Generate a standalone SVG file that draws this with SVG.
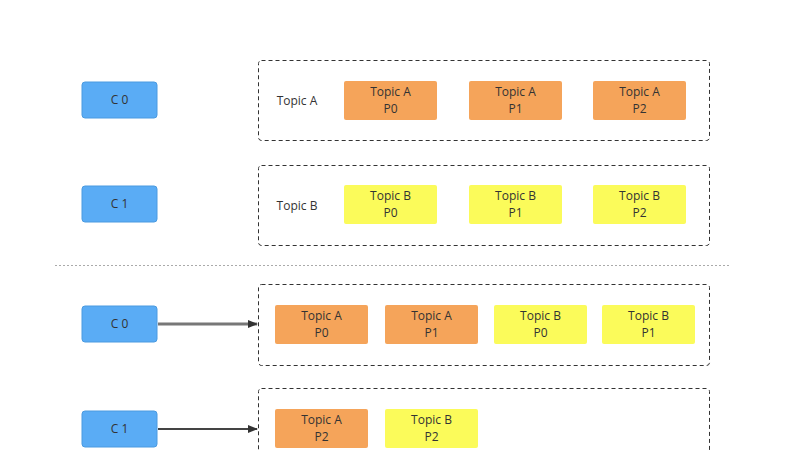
<svg xmlns="http://www.w3.org/2000/svg" width="788" height="451" viewBox="0 0 788 451">
<style>
text{font-family:"Open Sans","DejaVu Sans",sans-serif;font-size:12px;fill:#333;text-anchor:middle}
.c{fill:#5aacf5;stroke:#4a9ae0;stroke-width:1}
.a{fill:#f5a45a}
.b{fill:#fbfb5a}
.g{fill:none;stroke:#333;stroke-dasharray:4 3;stroke-width:1}
</style>
<defs><marker id="m" markerWidth="10" markerHeight="8" refX="9" refY="4" orient="auto" markerUnits="userSpaceOnUse"><path d="M0,0L10,4L0,8z" fill="#333"/></marker></defs>
<rect width="788" height="451" fill="#fff"/>
<g id="g1"><rect class="g" x="258.5" y="60.5" width="451" height="80" rx="3"/><text x="297" y="105" font-size="11">Topic A</text></g>
<g id="g2"><rect class="g" x="258.5" y="165.5" width="451" height="80" rx="3"/><text x="297" y="210" font-size="11">Topic B</text></g>
<g id="g3"><rect class="g" x="258.5" y="284.5" width="451" height="81" rx="3"/></g>
<g id="g4"><rect class="g" x="258.5" y="388.5" width="451" height="80" rx="3"/></g>
<line x1="55" y1="265.5" x2="730" y2="265.5" stroke="#aaa" stroke-dasharray="2 2"/>
<g id="c0a"><rect class="c" x="82" y="82" width="75" height="36" rx="3"/><text x="119.5" y="104">C 0</text></g>
<g id="c1a"><rect class="c" x="82" y="186" width="75" height="36" rx="3"/><text x="119.5" y="208">C 1</text></g>
<g id="c0b"><rect class="c" x="82" y="306" width="75" height="36" rx="3"/><text x="119.5" y="328">C 0</text></g>
<g id="c1b"><rect class="c" x="82" y="411" width="75" height="36" rx="3"/><text x="119.5" y="433">C 1</text></g>
<g id="t1"><rect class="a" x="344" y="81" width="93" height="39" rx="2"/><text x="390.5" y="96">Topic A</text><text x="390.5" y="113">P0</text></g>
<g id="t2"><rect class="a" x="469" y="81" width="93" height="39" rx="2"/><text x="515.5" y="96">Topic A</text><text x="515.5" y="113">P1</text></g>
<g id="t3"><rect class="a" x="593" y="81" width="93" height="39" rx="2"/><text x="639.5" y="96">Topic A</text><text x="639.5" y="113">P2</text></g>
<g id="t4"><rect class="b" x="344" y="185" width="93" height="39" rx="2"/><text x="390.5" y="200">Topic B</text><text x="390.5" y="217">P0</text></g>
<g id="t5"><rect class="b" x="469" y="185" width="93" height="39" rx="2"/><text x="515.5" y="200">Topic B</text><text x="515.5" y="217">P1</text></g>
<g id="t6"><rect class="b" x="593" y="185" width="93" height="39" rx="2"/><text x="639.5" y="200">Topic B</text><text x="639.5" y="217">P2</text></g>
<g id="t7"><rect class="a" x="275" y="305" width="93" height="39" rx="2"/><text x="321.5" y="320">Topic A</text><text x="321.5" y="337">P0</text></g>
<g id="t8"><rect class="a" x="385" y="305" width="93" height="39" rx="2"/><text x="431.5" y="320">Topic A</text><text x="431.5" y="337">P1</text></g>
<g id="t9"><rect class="b" x="494" y="305" width="93" height="39" rx="2"/><text x="540.5" y="320">Topic B</text><text x="540.5" y="337">P0</text></g>
<g id="t10"><rect class="b" x="602" y="305" width="93" height="39" rx="2"/><text x="648.5" y="320">Topic B</text><text x="648.5" y="337">P1</text></g>
<g id="t11"><rect class="a" x="275" y="409" width="93" height="39" rx="2"/><text x="321.5" y="424">Topic A</text><text x="321.5" y="441">P2</text></g>
<g id="t12"><rect class="b" x="385" y="409" width="93" height="39" rx="2"/><text x="431.5" y="424">Topic B</text><text x="431.5" y="441">P2</text></g>
<g id="connectors" stroke="#444" stroke-width="2">
<line x1="158" y1="324" x2="257" y2="324" stroke="#777" stroke-width="3" marker-end="url(#m)"/>
<line x1="158" y1="429" x2="257" y2="429" marker-end="url(#m)"/>
</g>
</svg>
